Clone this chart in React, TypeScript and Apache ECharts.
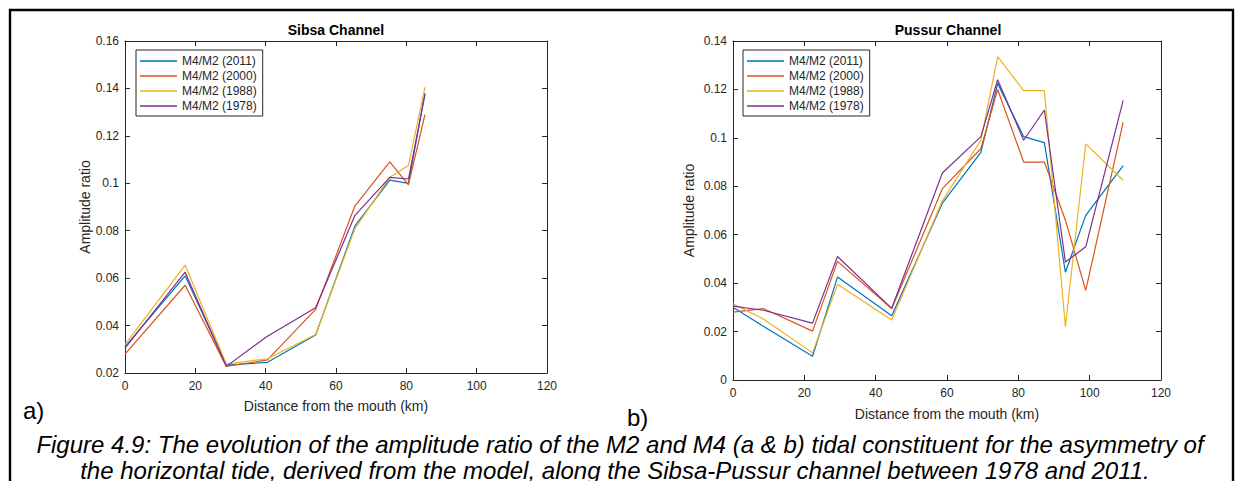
import React, { useEffect, useRef } from "react";
import * as echarts from "echarts";

const seriesNames = ["M4/M2 (2011)", "M4/M2 (2000)", "M4/M2 (1988)", "M4/M2 (1978)"];
const seriesColors = ["#0072BD", "#D95319", "#EDB120", "#7E2F8E"];

// Sibsa Channel
const sibsaDistance = [0, 17.1, 28.8, 40.5, 54.2, 65.4, 75.3, 80.6, 85.3];
const sibsa2011 = [0.031, 0.061, 0.0233, 0.0245, 0.036, 0.082, 0.1013, 0.1, 0.138];
const sibsa2000 = [0.028, 0.057, 0.0228, 0.0255, 0.0468, 0.0905, 0.109, 0.0993, 0.129];
const sibsa1988 = [0.032, 0.0655, 0.0238, 0.026, 0.0362, 0.081, 0.1025, 0.1075, 0.1405];
const sibsa1978 = [0.0305, 0.0625, 0.0228, 0.0355, 0.0475, 0.0865, 0.1025, 0.1018, 0.1375];

// Pussur Channel
const pussurDistance = [0, 8.5, 22.3, 29.3, 44.5, 58.7, 69.5, 74.2, 81.5, 87.3, 93.2, 98.9, 109.4];
const pussur2011 = [0.03, 0.0222, 0.0098, 0.0425, 0.0265, 0.073, 0.094, 0.1225, 0.1005, 0.098, 0.0445, 0.068, 0.0885];
const pussur2000 = [0.028, 0.0295, 0.0202, 0.049, 0.0295, 0.079, 0.0955, 0.12, 0.09, 0.09, 0.066, 0.037, 0.1065];
const pussur1988 = [0.0315, 0.0252, 0.0112, 0.0395, 0.0248, 0.074, 0.099, 0.1335, 0.1195, 0.1195, 0.022, 0.0975, 0.0825];
const pussur1978 = [0.0305, 0.0288, 0.0235, 0.051, 0.0296, 0.0855, 0.1005, 0.124, 0.099, 0.1115, 0.0487, 0.055, 0.1155];

const titles = ["Sibsa Channel", "Pussur Channel"];
const xAxisTitle = "Distance from the mouth (km)";
const yAxisTitle = "Amplitude ratio";
const captionLine1 =
  "Figure 4.9: The evolution of the amplitude ratio of the M2 and M4 (a & b) tidal constituent for the asymmetry of";
const captionLine2 =
  "the horizontal tide, derived from the model, along the Sibsa-Pussur channel between 1978 and 2011.";

const FONT = "'Liberation Sans', Arial, Helvetica, sans-serif";
const AXIS_COLOR = "#262626";

function pair(xs: number[], ys: number[]) {
  return xs.map((x, i) => [x, ys[i]]);
}

export default function App() {
  const ref = useRef<HTMLDivElement>(null);

  useEffect(() => {
    if (!ref.current) return;
    const chart = echarts.init(ref.current, undefined, { renderer: "svg" });

    const lineStyle = { color: AXIS_COLOR, width: 1 };

    const makeX = (gridIndex: number, nameGap: number) => [
      {
        type: "value",
        gridIndex,
        min: 0,
        max: 120,
        interval: 20,
        position: "bottom",
        axisLine: { show: true, onZero: false, lineStyle },
        axisTick: { show: true, inside: true, length: 5, lineStyle },
        axisLabel: { fontSize: 12, color: AXIS_COLOR, margin: 7, fontFamily: FONT },
        splitLine: { show: false },
        name: xAxisTitle,
        nameLocation: "middle",
        nameGap,
        nameTextStyle: { fontSize: 14, color: AXIS_COLOR, fontFamily: FONT },
      },
      {
        type: "value",
        gridIndex,
        min: 0,
        max: 120,
        interval: 20,
        position: "top",
        axisLine: { show: true, onZero: false, lineStyle },
        axisTick: { show: true, inside: true, length: 5, lineStyle },
        axisLabel: { show: false },
        splitLine: { show: false },
      },
    ];

    const makeY = (gridIndex: number, min: number, max: number, nameGap: number) => [
      {
        type: "value",
        gridIndex,
        min,
        max,
        interval: 0.02,
        position: "left",
        axisLine: { show: true, onZero: false, lineStyle },
        axisTick: { show: true, inside: true, length: 5, lineStyle },
        axisLabel: { fontSize: 12, color: AXIS_COLOR, margin: 6, fontFamily: FONT },
        splitLine: { show: false },
        name: yAxisTitle,
        nameLocation: "middle",
        nameGap,
        nameRotate: 90,
        nameTextStyle: { fontSize: 14, color: AXIS_COLOR, fontFamily: FONT },
      },
      {
        type: "value",
        gridIndex,
        min,
        max,
        interval: 0.02,
        position: "right",
        axisLine: { show: true, onZero: false, lineStyle },
        axisTick: { show: true, inside: true, length: 5, lineStyle },
        axisLabel: { show: false },
        splitLine: { show: false },
      },
    ];

    const sibsaData = [sibsa2011, sibsa2000, sibsa1988, sibsa1978];
    const pussurData = [pussur2011, pussur2000, pussur1988, pussur1978];

    const series: any[] = [];
    sibsaData.forEach((ys, i) => {
      series.push({
        type: "line",
        name: seriesNames[i],
        xAxisIndex: 0,
        yAxisIndex: 0,
        data: pair(sibsaDistance, ys),
        symbol: "none",
        showSymbol: false,
        color: seriesColors[i],
        lineStyle: { width: 1.2, color: seriesColors[i] },
      });
    });
    pussurData.forEach((ys, i) => {
      series.push({
        type: "line",
        name: seriesNames[i],
        xAxisIndex: 2,
        yAxisIndex: 2,
        data: pair(pussurDistance, ys),
        symbol: "none",
        showSymbol: false,
        color: seriesColors[i],
        lineStyle: { width: 1.2, color: seriesColors[i] },
      });
    });

    const legendBase = {
      orient: "vertical",
      top: 50,
      icon: "rect",
      itemWidth: 37,
      itemHeight: 1.5,
      itemGap: 1,
      selectedMode: false,
      backgroundColor: "#ffffff",
      borderColor: AXIS_COLOR,
      borderWidth: 1,
      borderRadius: 0,
      padding: [4, 6, 3, 4],
      textStyle: { fontSize: 12, color: AXIS_COLOR, fontFamily: FONT, lineHeight: 14 },
      data: seriesNames,
    };

    chart.setOption({
      animation: false,
      backgroundColor: "#ffffff",
      grid: [
        { left: 125, top: 41, width: 422, height: 332, containLabel: false },
        { left: 733, top: 41, width: 428, height: 339, containLabel: false },
      ],
      xAxis: [...makeX(0, 26), ...makeX(1, 27)],
      yAxis: [...makeY(0, 0.02, 0.16, 33), ...makeY(1, 0, 0.14, 37)],
      legend: [
        { ...legendBase, left: 136 },
        { ...legendBase, left: 743 },
      ],
      series,
      graphic: [
        {
          type: "rect",
          shape: { x: 10, y: 10, width: 1223, height: 500 },
          style: { fill: "none", stroke: "#000000", lineWidth: 2.4 },
          silent: true,
        },
        {
          type: "text",
          x: 336,
          y: 30,
          style: {
            text: titles[0],
            textAlign: "center",
            textVerticalAlign: "middle",
            font: `bold 14px ${FONT}`,
            fill: "#000000",
          },
        },
        {
          type: "text",
          x: 948,
          y: 30,
          style: {
            text: titles[1],
            textAlign: "center",
            textVerticalAlign: "middle",
            font: `bold 14px ${FONT}`,
            fill: "#000000",
          },
        },
        {
          type: "text",
          x: 23,
          y: 410,
          style: {
            text: "a)",
            textAlign: "left",
            textVerticalAlign: "middle",
            font: `24px ${FONT}`,
            fill: "#000000",
          },
        },
        {
          type: "text",
          x: 627,
          y: 417,
          style: {
            text: "b)",
            textAlign: "left",
            textVerticalAlign: "middle",
            font: `24px ${FONT}`,
            fill: "#000000",
          },
        },
        {
          type: "text",
          x: 620,
          y: 444,
          style: {
            text: captionLine1,
            textAlign: "center",
            textVerticalAlign: "middle",
            font: `italic 24px ${FONT}`,
            fill: "#000000",
          },
        },
        {
          type: "text",
          x: 615,
          y: 470,
          style: {
            text: captionLine2,
            textAlign: "center",
            textVerticalAlign: "middle",
            font: `italic 24px ${FONT}`,
            fill: "#000000",
          },
        },
      ],
    });

    return () => {
      chart.dispose();
    };
  }, []);

  return (
    <div
      ref={ref}
      style={{ position: "fixed", left: 0, top: 0, width: 1235, height: 481, background: "#ffffff" }}
    />
  );
}
